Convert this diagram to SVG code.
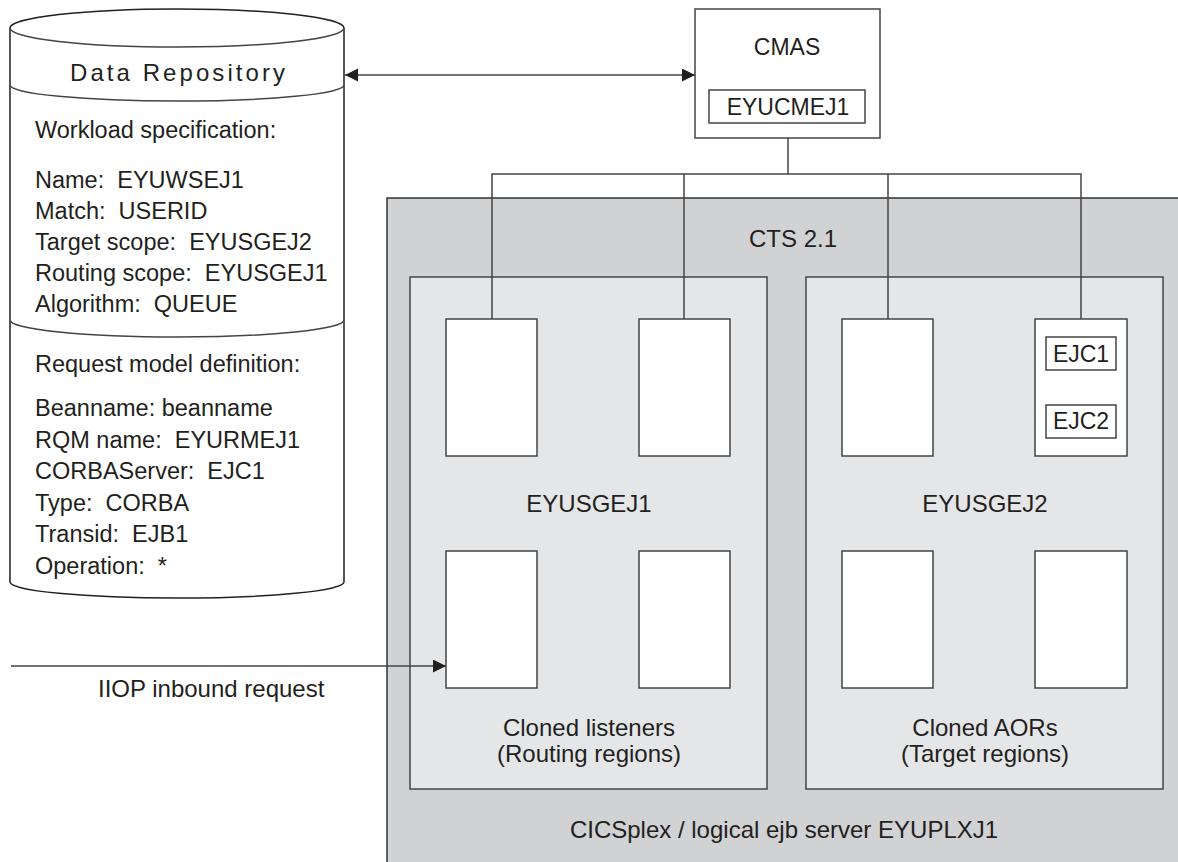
<svg xmlns="http://www.w3.org/2000/svg" width="1178" height="862" viewBox="0 0 1178 862">
<style>
text{font-family:"Liberation Sans",Arial,sans-serif;fill:#231f20;}
.t24{font-size:24px;}
.t23{font-size:23px;}
.body{font-size:23.5px;}
.ln{fill:none;stroke:#444;stroke-width:1.5;}
.box{fill:#fff;stroke:#444;stroke-width:1.5;}
.panel{fill:#e5e6e8;stroke:#444;stroke-width:1.5;}
.outer{fill:#d1d2d4;stroke:#333;stroke-width:1.5;}
.mid{text-anchor:middle;}
</style>
<defs>
<marker id="arr" markerUnits="userSpaceOnUse" markerWidth="14" markerHeight="14" refX="13" refY="6.5" orient="auto-start-reverse">
<path d="M0,0 L13,6.5 L0,13 Z" fill="#231f20"/>
</marker>
</defs>

<g id="cicsplex">
<rect class="outer" x="387" y="198" width="800" height="680"/>
<text class="t24 mid" x="793" y="247">CTS 2.1</text>
<text class="t24 mid" x="784" y="838">CICSplex / logical ejb server EYUPLXJ1</text>
</g>

<g id="eyusgej1">
<rect class="panel" x="410" y="277" width="357" height="512"/>
<rect class="box" x="446" y="319" width="91" height="137"/>
<rect class="box" x="639" y="319" width="91" height="137"/>
<rect class="box" x="446" y="551" width="91" height="137"/>
<rect class="box" x="639" y="551" width="91" height="137"/>
<text class="t24 mid" x="589" y="512">EYUSGEJ1</text>
<text class="t24 mid" x="589" y="736">Cloned listeners</text>
<text class="t24 mid" x="589" y="762">(Routing regions)</text>
</g>

<g id="eyusgej2">
<rect class="panel" x="806" y="277" width="357" height="512"/>
<rect class="box" x="842" y="319" width="91" height="137"/>
<rect class="box" x="1035" y="319" width="92" height="137"/>
<rect class="box" x="842" y="551" width="91" height="137"/>
<rect class="box" x="1035" y="551" width="92" height="137"/>
<rect class="box" x="1046" y="337" width="70" height="33"/>
<text class="t23 mid" x="1081" y="362">EJC1</text>
<rect class="box" x="1046" y="405" width="70" height="33"/>
<text class="t23 mid" x="1081" y="429">EJC2</text>
<text class="t24 mid" x="985" y="512">EYUSGEJ2</text>
<text class="t24 mid" x="985" y="736">Cloned AORs</text>
<text class="t24 mid" x="985" y="762">(Target regions)</text>
</g>

<g id="cmas">
<rect class="box" x="695" y="9" width="185" height="129"/>
<text class="t23 mid" x="787" y="55">CMAS</text>
<rect class="box" x="709" y="90" width="156" height="33"/>
<text class="t23 mid" x="788" y="115">EYUCMEJ1</text>
</g>

<g id="data-repository">
<path d="M10,28 A167,19 0 0 1 344,28 L344,582 A167,16 0 0 1 10,582 Z" fill="#fff" stroke="#231f20" stroke-width="1.5"/>
<path class="ln" stroke="#231f20" d="M10,28 A167,19 0 0 0 344,28"/>
<path class="ln" d="M10,85 A167,16 0 0 0 344,85"/>
<path class="ln" d="M10,320 A167,17 0 0 0 344,320"/>
<text class="t24 mid" x="177.5" y="81" textLength="215" lengthAdjust="spacing">Data Repository</text>
<text class="body" x="35" y="138">Workload specification:</text>
<text class="body" x="35" y="188" xml:space="preserve">Name:  EYUWSEJ1</text>
<text class="body" x="35" y="219" xml:space="preserve">Match:  USERID</text>
<text class="body" x="35" y="250" xml:space="preserve">Target scope:  EYUSGEJ2</text>
<text class="body" x="35" y="281" xml:space="preserve">Routing scope:  EYUSGEJ1</text>
<text class="body" x="35" y="312" xml:space="preserve">Algorithm:  QUEUE</text>
<text class="body" x="35" y="372">Request model definition:</text>
<text class="body" x="35" y="416">Beanname: beanname</text>
<text class="body" x="35" y="447.5" xml:space="preserve">RQM name:  EYURMEJ1</text>
<text class="body" x="35" y="479" xml:space="preserve">CORBAServer:  EJC1</text>
<text class="body" x="35" y="510.5" xml:space="preserve">Type:  CORBA</text>
<text class="body" x="35" y="542" xml:space="preserve">Transid:  EJB1</text>
<text class="body" x="35" y="573.5" xml:space="preserve">Operation:  *</text>
</g>

<g id="connectors">
<line class="ln" x1="345" y1="75" x2="695" y2="75" marker-start="url(#arr)" marker-end="url(#arr)"/>
<line class="ln" x1="788" y1="138" x2="788" y2="174"/>
<polyline class="ln" points="492,319 492,174 1081,174 1081,319"/>
<line class="ln" x1="684" y1="174" x2="684" y2="319"/>
<line class="ln" x1="888" y1="174" x2="888" y2="319"/>
<line class="ln" x1="11" y1="666" x2="446" y2="666" marker-end="url(#arr)"/>
<text class="t24" x="98" y="697">IIOP inbound request</text>
</g>
</svg>
